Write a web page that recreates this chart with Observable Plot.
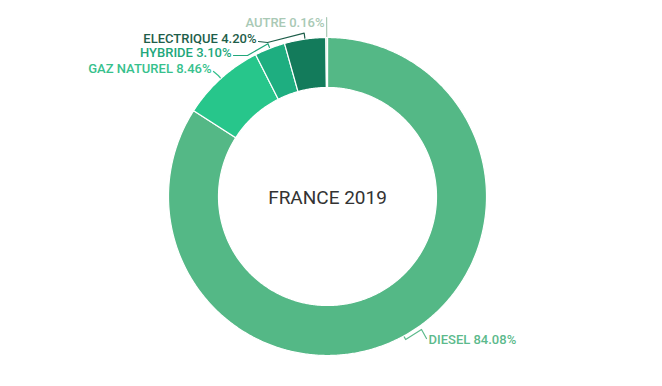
<!DOCTYPE html>
<html>
<head>
<meta charset="utf-8">
<script src="https://cdn.jsdelivr.net/npm/d3@7"></script>
<script src="https://cdn.jsdelivr.net/npm/@observablehq/plot@0.6"></script>
<style>
  html, body { margin: 0; padding: 0; background: #fff; }
  #chart svg { display: block; }
</style>
</head>
<body>
<div id="chart"></div>
<script>
// ---- data ----
const categories = ["DIESEL", "GAZ NATUREL", "HYBRIDE", "ELECTRIQUE", "AUTRE"];
const shares = [84.08, 8.46, 3.10, 4.20, 0.16];
const labels = ["DIESEL 84.08%", "GAZ NATUREL 8.46%", "HYBRIDE 3.10%", "ELECTRIQUE 4.20%", "AUTRE 0.16%"];
const centerTitle = "FRANCE 2019";

// ---- styles ----
const sliceColors = ["#54b886", "#27c68b", "#1eae80", "#137b5b", "#c9ddd0"];
const labelColors = ["#5cba8c", "#37c18d", "#22a77b", "#1e5e4a", "#a9c9b5"];

// ---- geometry / layout ----
const W = 662, H = 386;
const cx = 327, cy = 196;           // pixel centre
const R = 159, r0 = 109;
const total = d3.sum(shares);
const rad = a => a * Math.PI / 180;
const polar = (deg, r) => [r * Math.sin(rad(deg)), r * Math.cos(rad(deg))];

// slice polygons
let acc = 0;
const slices = categories.map((c, i) => {
  const a0 = acc / total * 360;
  acc += shares[i];
  const a1 = acc / total * 360;
  return {c, i, a0, a1, mid: (a0 + a1) / 2};
});
const poly = [];
for (const s of slices) {
  const n = Math.max(2, Math.ceil((s.a1 - s.a0) / 0.5));
  for (let k = 0; k <= n; k++) {
    const a = s.a0 + (s.a1 - s.a0) * k / n;
    const [x, y] = polar(a, R);
    poly.push({c: s.c, x, y});
  }
  for (let k = n; k >= 0; k--) {
    const a = s.a0 + (s.a1 - s.a0) * k / n;
    const [x, y] = polar(a, r0);
    poly.push({c: s.c, x, y});
  }
}

// label layout (offsets in pixel units relative to centre; y up)
const labelLayout = {
  "DIESEL":      {anchor: "start", tx: 101, ty: -143, out: 4, elbow: [94, -133], end: [99, -142]},
  "GAZ NATUREL": {anchor: "end",   tx: -116, ty: 128, out: 4, elbow: null, end: [-114, 125]},
  "HYBRIDE":     {anchor: "end",   tx: -96, ty: 144, out: 5, elbow: [-80, 141], end: [-94, 141]},
  "ELECTRIQUE":  {anchor: "end",   tx: -71, ty: 158, out: 6, elbow: [-60, 154], end: [-69, 155]},
  "AUTRE":       {anchor: "end",   tx: -3,  ty: 174, out: 20, elbow: null, end: null}
};

const leaders = [];
const texts = [];
for (const s of slices) {
  const L = labelLayout[s.c];
  const pts = [polar(s.mid, R + 1), polar(s.mid, R + L.out)];
  if (L.elbow) pts.push(L.elbow);
  if (L.end) pts.push(L.end);
  pts.forEach(([x, y]) => leaders.push({c: s.c, x, y}));
  texts.push({c: s.c, x: L.tx, y: L.ty, text: labels[s.i], anchor: L.anchor, color: labelColors[s.i]});
}

const color = {domain: categories, range: sliceColors};

const plot = Plot.plot({
  width: W,
  height: H,
  margin: 0,
  x: {domain: [-cx, W - cx], axis: null},
  y: {domain: [cy - H, cy], axis: null},
  color,
  style: {background: "#fff"},
  marks: [
    Plot.line(poly, {x: "x", y: "y", z: "c", fill: "c", stroke: "#fff", strokeWidth: 1.2, curve: "linear-closed"}),
    Plot.line(leaders, {x: "x", y: "y", z: "c", stroke: d => labelColors[categories.indexOf(d.c)], strokeWidth: 1.2}),
    Plot.text(texts.filter(d => d.anchor === "end"), {x: "x", y: "y", text: "text", fill: d => d.color, textAnchor: "end",
      fontFamily: "Roboto", fontSize: 13, fontWeight: 500}),
    Plot.text(texts.filter(d => d.anchor === "start"), {x: "x", y: "y", text: "text", fill: d => d.color, textAnchor: "start",
      fontFamily: "Roboto", fontSize: 13, fontWeight: 500}),
    Plot.text([centerTitle], {x: 0, y: -1, text: d => d, fill: "#333", fontFamily: "Roboto", fontSize: 19, fontWeight: 400})
  ]
});
document.getElementById("chart").appendChild(plot);
</script>
</body>
</html>
